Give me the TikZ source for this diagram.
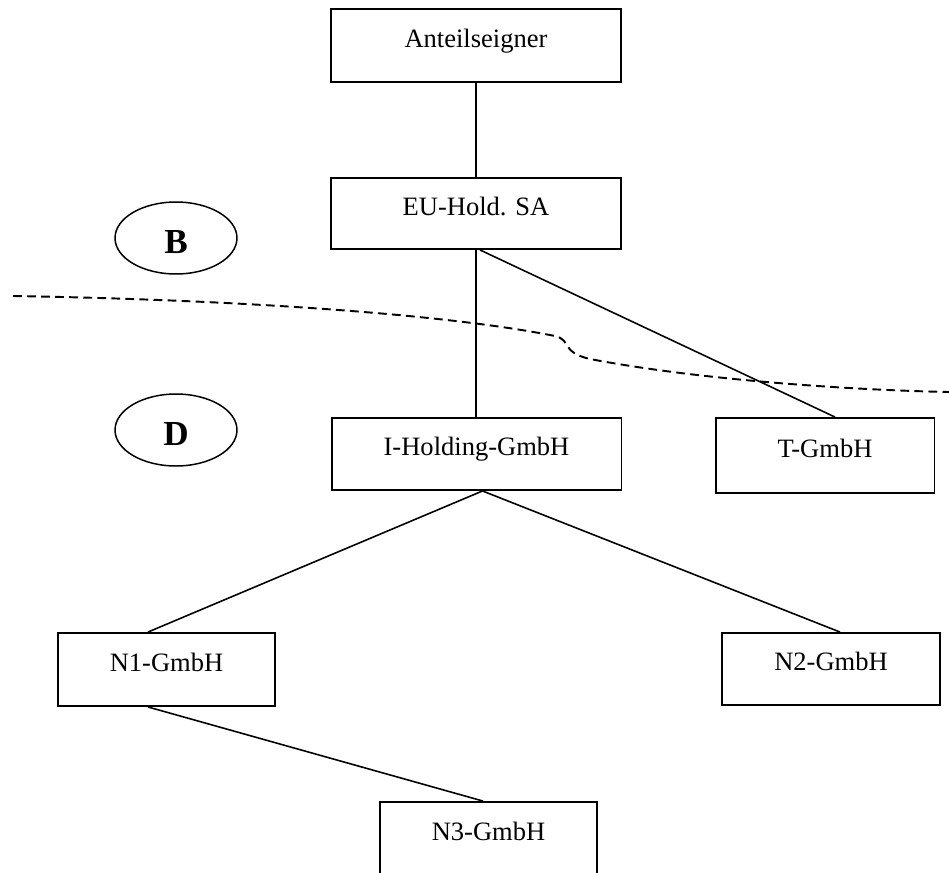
\documentclass[tikz,border=0pt]{standalone}
\usepackage{fontspec}
\setmainfont{Liberation Serif}
\usetikzlibrary{shapes.geometric}
\tikzset{
	firm/.style={draw, line width=1.1pt, inner sep=0pt, text height=10.3pt, text depth=8.3pt, font=\fontsize{15.1}{18}\selectfont},
	land/.style={draw, ellipse, line width=0.85pt, inner sep=0pt, minimum width=2.44cm, minimum height=1.44cm, text height=18pt, text depth=0pt, font=\fontsize{20}{24}\selectfont\bfseries},
	link/.style={line width=0.9pt},
	grenze/.style={dash pattern=on 5pt off 3pt, line width=1.1pt}
}
\begin{document}
\begin{tikzpicture}[x=0.02cm, y=-0.02cm]
		\useasboundingbox (0, 0) rectangle (949, 872);
		\node[firm, minimum width=5.8cm, minimum height=1.46cm] (anteil) at (476, 45.5) {Anteilseigner};
		\node[firm, minimum width=5.8cm, minimum height=1.42cm] (euhold) at (476, 213.5) {EU-Hold. SA};
		\node[firm, minimum width=5.8cm, minimum height=1.44cm] (iholding) at (476.5, 454) {I-Holding-GmbH};
		\node[firm, minimum width=4.38cm, minimum height=1.5cm] (tgmbh) at (825, 455.5) {T-GmbH};
		\node[firm, minimum width=4.34cm, minimum height=1.46cm] (neins) at (166.5, 669.5) {N1-GmbH};
		\node[firm, minimum width=4.36cm, minimum height=1.44cm] (nzwei) at (831, 669) {N2-GmbH};
		\node[firm, minimum width=4.34cm, minimum height=1.46cm] (ndrei) at (488.5, 838.5) {N3-GmbH};
		\node[land] (landb) at (176, 238) {B};
		\node[land] (landd) at (176, 430) {D};
		\draw[link] (anteil.south) -- (euhold.north);
		\draw[link] (euhold.south) -- (euhold.south |- iholding.north);
		\draw[link] ([xshift=0.08cm]euhold.south) -- ([xshift=0.2cm]tgmbh.north);
		\draw[link] ([xshift=0.12cm]iholding.south) -- ([xshift=-0.37cm]neins.north);
		\draw[link] ([xshift=0.12cm]iholding.south) -- ([xshift=0.18cm]nzwei.north);
		\draw[link] ([xshift=-0.37cm]neins.south) -- ([xshift=-0.11cm]ndrei.north);
		\draw[grenze] (13, 296) .. controls (250, 300) and (450, 315) .. (555, 336)
			.. controls (572, 340) and (560, 352) .. (590, 359)
			.. controls (700, 380) and (850, 390) .. (949, 392);
	\end{tikzpicture}
\end{document}
